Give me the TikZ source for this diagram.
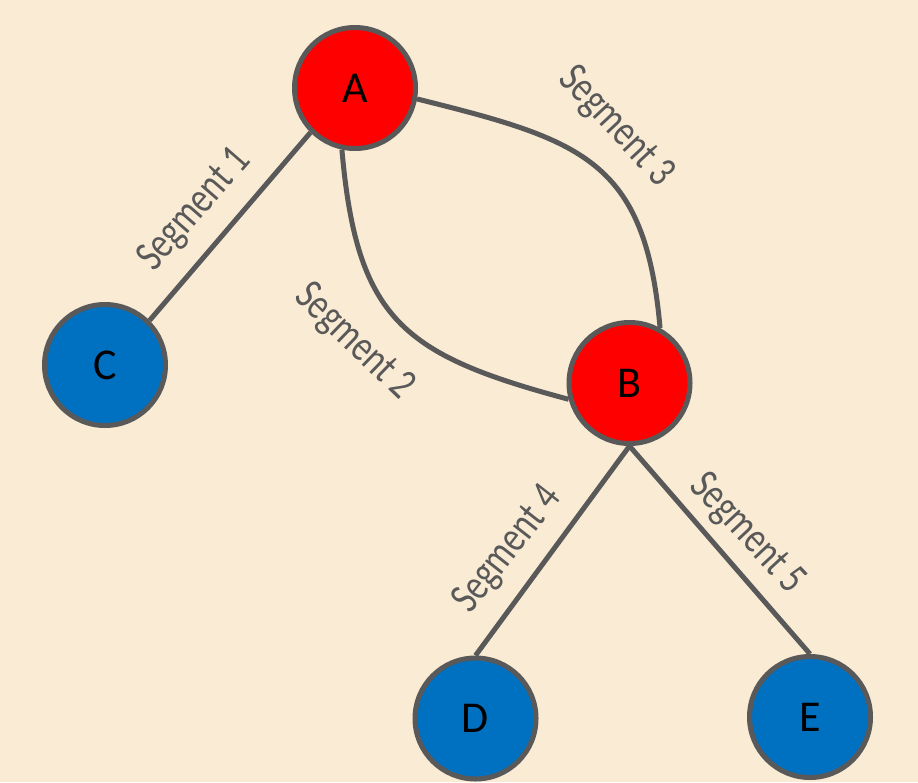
\documentclass[tikz,border=0pt]{standalone}
\usepackage{fontspec}
\setmainfont{Carlito}
\definecolor{bgtan}{HTML}{FAEBD4}
\definecolor{nodered}{HTML}{FF0000}
\definecolor{nodeblue}{HTML}{0070C0}
\definecolor{edgegray}{HTML}{595959}
\tikzset{
  vertex/.style={circle, draw=edgegray, line width=5pt, minimum size=121pt, inner sep=0pt,
    font=\fontsize{44}{44}\selectfont, text=black},
  rednode/.style={vertex, fill=nodered},
  bluenode/.style={vertex, fill=nodeblue},
  seg/.style={draw=edgegray, line width=5pt},
  seglabel/.style={inner sep=0pt, text=edgegray, font=\fontsize{44}{44}\selectfont}
}
\newcommand{\seglab}[1]{\scalebox{0.78}[1]{#1}}
\begin{document}
\begin{tikzpicture}[x=1pt,y=-1pt]
  \fill[bgtan] (0,0) rectangle (918,782);
  \useasboundingbox (0,0) rectangle (918,782);

  \node[rednode]  (A) at (355,88)  {A};
  \node[rednode]  (B) at (629.5,383) {B};
  \node[bluenode] (C) at (105,365) {C};
  \node[bluenode] (D) at (475.5,718.5) {D};
  \node[bluenode] (E) at (810,717) {E};

  \draw[seg] (A.south west) -- (C.north east);
  \draw[seg] (A.-102) to[out=-85, in=165, looseness=1.3] (B.195);
  \draw[seg] (A.-10) to[out=-14, in=95, looseness=1.3] (B.61);
  \draw[seg] (B.south) -- (D.north);
  \draw[seg] (B.south) -- (E.north);

  \node[seglabel, rotate=49]  (L1) at (195,210) {\seglab{Segment 1}};
  \node[seglabel, rotate=-44] (L2) at (354,342) {\seglab{Segment 2}};
  \node[seglabel, rotate=-47] (L3) at (616,127) {\seglab{Segment 3}};
  \node[seglabel, rotate=52]  (L4) at (508,550) {\seglab{Segment 4}};
  \node[seglabel, rotate=-47] (L5) at (747,534) {\seglab{Segment 5}};
\end{tikzpicture}
\end{document}
